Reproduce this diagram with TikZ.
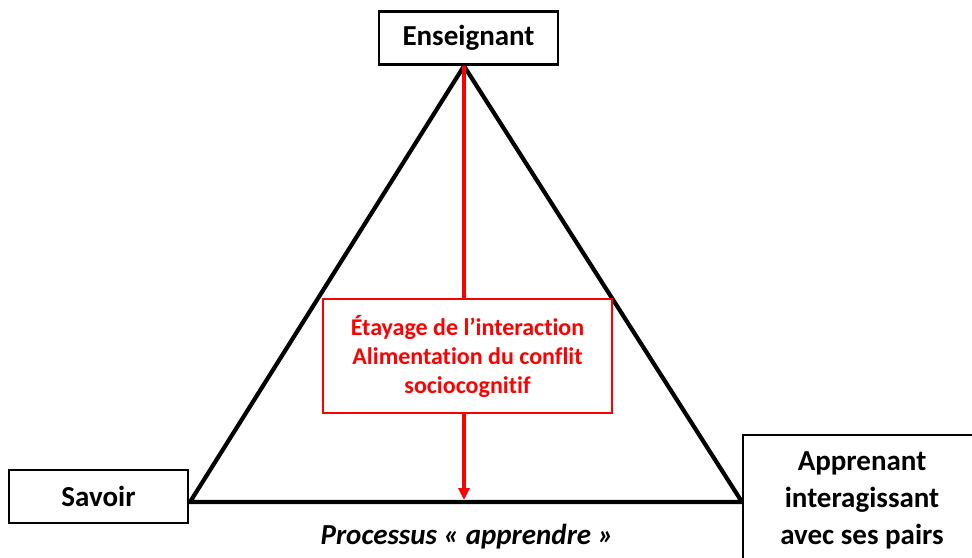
\documentclass[tikz,border=0pt]{standalone}
\usepackage{fontspec}
\setmainfont{Carlito}[Ligatures=NoCommon]
\usetikzlibrary{arrows.meta}
\tikzset{
  blackbox/.style={draw=black, line width=2.4pt, fill=white, inner sep=0pt,
    font=\bfseries\fontsize{29}{37}\selectfont, align=center},
  redbox/.style={draw=red, line width=2.2pt, fill=white, inner sep=0pt, text=red,
    font=\bfseries\fontsize{24}{29}\selectfont, align=center},
  tri/.style={line width=4.2pt, line join=miter},
  redline/.style={draw=red, line width=3.6pt},
}
\begin{document}
\begin{tikzpicture}[x=1pt,y=-1pt]
\clip (0,0) rectangle (972,557);
\fill[white] (0,0) rectangle (972,557);
\coordinate (apex) at (464,66);
\coordinate (L) at (190,502);
\coordinate (R) at (742,502);
\coordinate (foot) at (464,500);
\draw[tri] (L) -- (apex) -- (R) -- cycle;
\node[blackbox, minimum width=179pt, minimum height=53pt] (ens) at (468.5,38) {Enseignant};
\node[blackbox, minimum width=179pt, minimum height=53pt] (sav) at (98.5,496.5) {Savoir};
\node[blackbox, minimum width=260pt, minimum height=170pt] (appr) at (873,520) {};
\node[font=\bfseries\fontsize{29}{37}\selectfont, align=center, inner sep=0pt] (apprt) at (862,500) {Apprenant\\interagissant\\avec ses pairs};
\node[redbox, minimum width=289pt, minimum height=114pt] (mid) at (467.5,356) {Étayage de l’interaction\\Alimentation du conflit\\sociocognitif};
\draw[redline] (apex) -- (mid.north -| apex);
\draw[redline, -{Triangle[length=12pt,width=11pt]}] (mid.south -| apex) -- (foot);
\node[font=\bfseries\itshape\fontsize{29}{35}\selectfont, inner sep=0pt] (proc) at (467,537) {Processus « apprendre »};
\end{tikzpicture}
\end{document}
